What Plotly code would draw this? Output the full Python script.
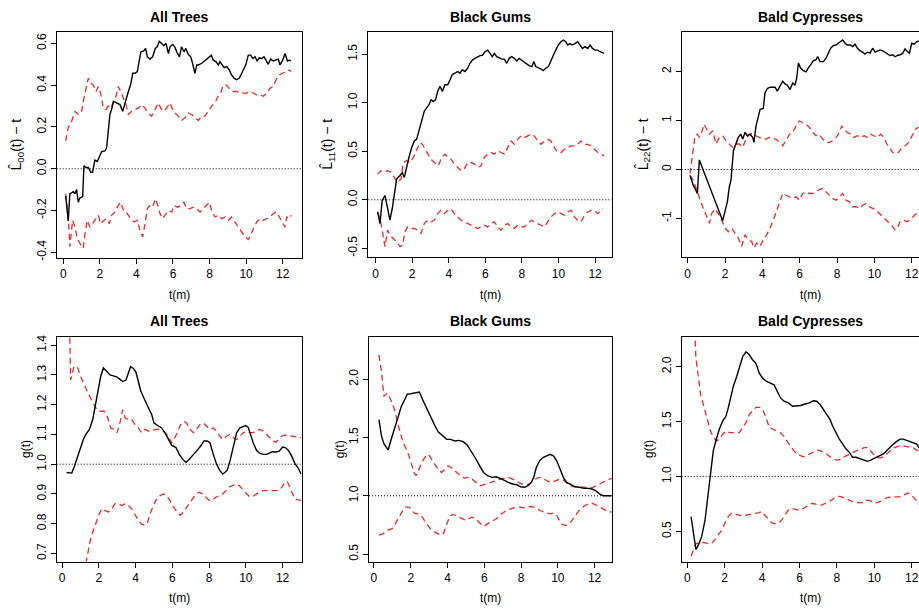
import plotly.graph_objects as go

W, H = 919, 613

# ---------------- data ----------------
X_TICKS = [0, 2, 4, 6, 8, 10, 12]
X_TICK_TEXT = ["0", "2", "4", "6", "8", "10", "12"]

TITLES = ["All Trees", "Black Gums", "Bald Cypresses"]
L_YLABELS = ["L\u0302<sub>00</sub>(t) \u2212 t", "L\u0302<sub>11</sub>(t) \u2212 t", "L\u0302<sub>22</sub>(t) \u2212 t"]
G_YLABEL = "g(t)"
X_LABEL = "t(m)"
REF_L = 0.0
REF_G = 1.0

Y_TICKS_ALL_L = [-0.4, -0.2, 0.0, 0.2, 0.4, 0.6]
Y_TEXT_ALL_L = ["-0.4", "-0.2", "0.0", "0.2", "0.4", "0.6"]
Y_TICKS_BG_L = [-0.5, 0.0, 0.5, 1.0, 1.5]
Y_TEXT_BG_L = ["-0.5", "0.0", "0.5", "1.0", "1.5"]
Y_TICKS_BC_L = [-1, 0, 1, 2]
Y_TEXT_BC_L = ["-1", "0", "1", "2"]
Y_TICKS_ALL_G = [0.7, 0.8, 0.9, 1.0, 1.1, 1.2, 1.3, 1.4]
Y_TEXT_ALL_G = ["0.7", "0.8", "0.9", "1.0", "1.1", "1.2", "1.3", "1.4"]
Y_TICKS_BG_G = [0.5, 1.0, 1.5, 2.0]
Y_TEXT_BG_G = ["0.5", "1.0", "1.5", "2.0"]
Y_TICKS_BC_G = [0.5, 1.0, 1.5, 2.0]
Y_TEXT_BC_G = ["0.5", "1.0", "1.5", "2.0"]

# All Trees, L00(t)-t : (t, value)
ALL_L_OBS = [(0.13,-0.13),(0.27,-0.25),(0.36,-0.12),(0.55,-0.11),(0.64,-0.12),(0.73,-0.10),(0.82,-0.16),(0.91,-0.14),(1.0,-0.136),(1.06,-0.133),
 (1.13,0.014),(1.24,0.006),(1.37,0.006),(1.5,-0.017),(1.6,-0.017),(1.73,0.041),(1.86,0.035),(2.0,0.062),(2.1,0.082),(2.28,0.085),
 (2.37,0.10),(2.46,0.18),(2.55,0.26),(2.64,0.283),(2.74,0.323),(2.92,0.315),(3.1,0.307),(3.25,0.275),(3.37,0.315),(3.56,0.37),
 (3.68,0.402),(3.8,0.457),(3.92,0.457),(4.05,0.465),(4.16,0.52),(4.25,0.56),(4.38,0.563),(4.5,0.576),(4.6,0.536),(4.74,0.525),
 (4.89,0.536),(5.03,0.576),(5.14,0.584),(5.25,0.611),(5.38,0.6),(5.5,0.589),(5.62,0.6),(5.75,0.552),(5.84,0.584),(5.98,0.595),
 (6.1,0.584),(6.2,0.56),(6.35,0.536),(6.47,0.584),(6.6,0.56),(6.7,0.576),(6.84,0.547),(6.97,0.536),(7.07,0.505),(7.2,0.457),
 (7.3,0.497),(7.39,0.497),(7.57,0.505),(7.75,0.52),(7.93,0.531),(8.1,0.544),(8.2,0.52),(8.35,0.513),(8.48,0.497),(8.57,0.513),
 (8.7,0.497),(8.8,0.484),(8.94,0.489),(9.08,0.473),(9.2,0.45),(9.34,0.434),(9.48,0.426),(9.63,0.434),(9.76,0.457),(9.88,0.48),
 (9.99,0.5),(10.12,0.544),(10.25,0.544),(10.36,0.528),(10.49,0.536),(10.6,0.516),(10.72,0.531),(10.85,0.528),(10.98,0.536),(11.13,0.513),
 (11.2,0.5),(11.34,0.525),(11.49,0.516),(11.6,0.52),(11.76,0.525),(11.85,0.497),(12.0,0.52),(12.13,0.552),(12.26,0.516),(12.37,0.52),(12.46,0.516)]
ALL_L_HI = [(0.13,0.133),(0.27,0.196),(0.46,0.228),(0.64,0.275),(0.82,0.26),(1.0,0.275),(1.13,0.339),(1.24,0.378),(1.37,0.434),(1.5,0.41),(1.64,0.40),(1.79,0.37),(1.92,0.394),(2.04,0.362),(2.19,0.29),(2.33,0.283),(2.46,0.30),(2.59,0.29),(2.74,0.315),(2.88,0.347),(3.0,0.394),(3.14,0.37),(3.28,0.339),(3.43,0.307),(3.56,0.26),(3.74,0.275),(3.92,0.283),(4.1,0.29),(4.29,0.307),(4.47,0.29),(4.65,0.267),(4.83,0.252),(5.01,0.283),(5.2,0.315),(5.33,0.29),(5.47,0.275),(5.65,0.29),(5.84,0.315),(5.98,0.283),(6.11,0.267),(6.29,0.252),(6.47,0.231),(6.66,0.244),(6.84,0.267),(7.02,0.26),(7.2,0.244),(7.39,0.231),(7.57,0.252),(7.75,0.252),(7.93,0.275),(8.11,0.30),(8.3,0.315),(8.42,0.339),(8.6,0.362),(8.75,0.40),(8.94,0.40),(9.12,0.378),(9.3,0.37),(9.48,0.37),(9.67,0.362),(9.85,0.362),(10.03,0.362),(10.21,0.37),(10.4,0.362),(10.58,0.354),(10.76,0.354),(10.94,0.347),(11.13,0.362),(11.31,0.386),(11.49,0.394),(11.64,0.426),(11.82,0.45),(12.0,0.457),(12.18,0.465),(12.37,0.473),(12.46,0.465)]
ALL_L_LO = [(0.13,-0.12),(0.27,-0.23),(0.36,-0.373),(0.51,-0.247),(0.64,-0.28),(0.77,-0.334),(0.91,-0.358),(1.09,-0.381),(1.19,-0.31),(1.31,-0.247),(1.46,-0.28),(1.64,-0.255),(1.79,-0.239),(1.92,-0.223),(2.04,-0.263),(2.23,-0.247),(2.37,-0.239),(2.52,-0.263),(2.64,-0.223),(2.83,-0.207),(3.0,-0.176),(3.14,-0.16),(3.32,-0.207),(3.5,-0.215),(3.68,-0.239),(3.87,-0.255),(4.05,-0.247),(4.19,-0.294),(4.34,-0.326),(4.47,-0.263),(4.6,-0.191),(4.74,-0.176),(4.89,-0.184),(5.03,-0.144),(5.14,-0.168),(5.29,-0.215),(5.44,-0.239),(5.56,-0.223),(5.75,-0.2),(5.93,-0.207),(6.06,-0.176),(6.24,-0.184),(6.42,-0.176),(6.6,-0.16),(6.75,-0.191),(6.93,-0.191),(7.11,-0.184),(7.3,-0.191),(7.48,-0.207),(7.66,-0.191),(7.84,-0.176),(7.99,-0.16),(8.11,-0.2),(8.3,-0.231),(8.48,-0.223),(8.66,-0.239),(8.85,-0.231),(9.03,-0.247),(9.2,-0.231),(9.39,-0.255),(9.57,-0.28),(9.76,-0.302),(9.94,-0.326),(10.12,-0.339),(10.25,-0.318),(10.4,-0.286),(10.58,-0.255),(10.76,-0.239),(10.94,-0.247),(11.13,-0.239),(11.31,-0.231),(11.49,-0.215),(11.64,-0.207),(11.82,-0.231),(12.0,-0.263),(12.13,-0.28),(12.22,-0.231),(12.37,-0.239),(12.46,-0.223)]

# Black Gums, L11(t)-t
BG_L_OBS = [(0.11,-0.126),(0.24,-0.245),(0.36,-0.007),(0.51,0.044),(0.66,-0.09),(0.78,-0.21),(0.91,-0.09),(1.02,0.06),(1.15,0.215),(1.33,0.25),(1.46,0.28),(1.57,0.23),(1.7,0.35),(1.82,0.436),(1.97,0.538),(2.12,0.606),(2.24,0.623),(2.37,0.708),(2.52,0.828),(2.66,0.913),(2.79,0.947),(2.92,0.98),(3.03,1.03),(3.16,1.015),(3.28,1.03),(3.39,1.117),(3.52,1.17),(3.65,1.117),(3.79,1.185),(3.94,1.185),(4.07,1.237),(4.19,1.29),(4.34,1.305),(4.49,1.322),(4.61,1.305),(4.74,1.34),(4.89,1.322),(5.03,1.356),(5.16,1.407),(5.29,1.44),(5.43,1.458),(5.58,1.475),(5.71,1.486),(5.84,1.49),(5.98,1.526),(6.13,1.543),(6.26,1.5),(6.38,1.475),(6.49,1.51),(6.62,1.475),(6.75,1.465),(6.89,1.45),(7.04,1.45),(7.17,1.407),(7.3,1.458),(7.44,1.475),(7.59,1.458),(7.72,1.43),(7.85,1.458),(7.99,1.44),(8.13,1.424),(8.26,1.407),(8.39,1.383),(8.54,1.373),(8.65,1.424),(8.76,1.373),(8.9,1.363),(9.05,1.346),(9.17,1.332),(9.3,1.356),(9.45,1.373),(9.59,1.44),(9.72,1.49),(9.85,1.543),(9.99,1.595),(10.14,1.63),(10.27,1.646),(10.4,1.63),(10.5,1.595),(10.63,1.61),(10.76,1.595),(10.9,1.61),(11.05,1.63),(11.18,1.595),(11.31,1.56),(11.45,1.578),(11.6,1.56),(11.73,1.595),(11.86,1.56),(12.0,1.543),(12.15,1.543),(12.27,1.526),(12.4,1.52),(12.5,1.51)]
BG_L_HI = [(0.11,0.266),(0.29,0.30),(0.47,0.283),(0.66,0.30),(0.84,0.283),(1.02,0.232),(1.2,0.18),(1.39,0.215),(1.51,0.385),(1.7,0.402),(1.88,0.385),(2.06,0.436),(2.24,0.52),(2.43,0.59),(2.55,0.572),(2.74,0.504),(2.92,0.453),(3.1,0.402),(3.28,0.368),(3.43,0.35),(3.61,0.436),(3.79,0.47),(3.94,0.436),(4.12,0.419),(4.3,0.368),(4.49,0.334),(4.67,0.30),(4.85,0.317),(5.03,0.385),(5.22,0.385),(5.4,0.368),(5.58,0.334),(5.76,0.35),(5.95,0.436),(6.13,0.47),(6.31,0.487),(6.49,0.47),(6.68,0.504),(6.86,0.487),(7.04,0.47),(7.22,0.538),(7.4,0.606),(7.59,0.572),(7.77,0.623),(7.95,0.658),(8.13,0.64),(8.32,0.658),(8.5,0.675),(8.68,0.658),(8.87,0.606),(9.05,0.572),(9.23,0.606),(9.41,0.623),(9.59,0.606),(9.78,0.538),(9.96,0.487),(10.14,0.487),(10.32,0.52),(10.5,0.538),(10.69,0.555),(10.87,0.555),(11.05,0.572),(11.23,0.606),(11.42,0.572),(11.6,0.572),(11.78,0.555),(11.96,0.52),(12.15,0.487),(12.33,0.47),(12.5,0.453)]
BG_L_LO = [(0.11,-0.126),(0.24,-0.194),(0.36,-0.313),(0.51,-0.484),(0.66,-0.313),(0.78,-0.365),(0.97,-0.40),(1.15,-0.433),(1.33,-0.484),(1.48,-0.467),(1.6,-0.33),(1.75,-0.28),(1.93,-0.296),(2.12,-0.296),(2.3,-0.313),(2.48,-0.348),(2.66,-0.245),(2.85,-0.211),(3.03,-0.228),(3.21,-0.211),(3.39,-0.143),(3.57,-0.109),(3.76,-0.143),(3.94,-0.109),(4.12,-0.092),(4.3,-0.143),(4.49,-0.177),(4.67,-0.211),(4.85,-0.228),(5.03,-0.245),(5.22,-0.262),(5.4,-0.28),(5.58,-0.296),(5.76,-0.28),(5.95,-0.262),(6.13,-0.28),(6.31,-0.245),(6.49,-0.228),(6.68,-0.28),(6.86,-0.313),(7.04,-0.262),(7.22,-0.245),(7.4,-0.28),(7.59,-0.296),(7.77,-0.262),(7.95,-0.28),(8.13,-0.28),(8.32,-0.245),(8.5,-0.211),(8.68,-0.228),(8.87,-0.245),(9.05,-0.262),(9.23,-0.28),(9.41,-0.228),(9.59,-0.177),(9.78,-0.143),(9.96,-0.126),(10.14,-0.143),(10.32,-0.16),(10.5,-0.126),(10.69,-0.109),(10.87,-0.177),(11.05,-0.211),(11.23,-0.228),(11.42,-0.16),(11.6,-0.126),(11.78,-0.109),(11.96,-0.109),(12.15,-0.143),(12.33,-0.109),(12.42,-0.092)]

# Bald Cypresses, L22(t)-t
BC_L_OBS = [(0.125,-0.12),(0.30,-0.32),(0.52,-0.49),(0.625,0.195),(1.875,-1.045),(2.0,-0.83),(2.125,-0.66),(2.23,-0.357),(2.32,-0.22),(2.45,0.384),(2.59,0.52),(2.71,0.654),(2.84,0.72),(2.95,0.62),(3.07,0.755),(3.2,0.688),(3.34,0.72),(3.48,0.654),(3.55,0.553),(3.66,0.89),(3.79,1.09),(3.88,1.227),(4.05,1.247),(4.14,1.564),(4.27,1.652),(4.41,1.679),(4.55,1.679),(4.68,1.679),(4.8,1.598),(4.95,1.70),(5.09,1.80),(5.21,1.746),(5.34,1.72),(5.48,1.63),(5.63,1.766),(5.75,1.72),(5.84,1.867),(5.93,2.17),(6.05,2.07),(6.2,2.016),(6.34,1.99),(6.46,2.07),(6.59,2.137),(6.73,2.218),(6.88,2.24),(6.96,2.305),(7.09,2.2),(7.27,2.2),(7.41,2.27),(7.54,2.373),(7.66,2.474),(7.8,2.528),(7.95,2.54),(8.07,2.575),(8.2,2.61),(8.3,2.643),(8.43,2.575),(8.55,2.54),(8.7,2.54),(8.84,2.508),(8.96,2.555),(9.09,2.474),(9.23,2.42),(9.38,2.393),(9.5,2.353),(9.63,2.393),(9.77,2.373),(9.91,2.474),(10.04,2.393),(10.16,2.42),(10.3,2.44),(10.45,2.42),(10.57,2.386),(10.7,2.353),(10.84,2.326),(10.98,2.34),(11.11,2.30),(11.23,2.326),(11.38,2.34),(11.52,2.373),(11.64,2.46),(11.77,2.407),(11.88,2.373),(12.0,2.575),(12.13,2.555),(12.27,2.61),(12.5,2.62)]
BC_L_HI = [(0.125,-0.088),(0.27,0.384),(0.39,0.688),(0.52,0.72),(0.625,0.654),(0.75,0.755),(0.875,0.924),(1.02,0.822),(1.16,0.72),(1.34,0.79),(1.52,0.52),(1.7,0.654),(1.875,0.688),(2.05,0.587),(2.23,0.52),(2.41,0.45),(2.59,0.52),(2.77,0.52),(2.95,0.45),(3.125,0.62),(3.3,0.72),(3.48,0.735),(3.66,0.688),(3.84,0.654),(4.02,0.62),(4.2,0.62),(4.375,0.654),(4.55,0.64),(4.73,0.62),(4.91,0.553),(5.09,0.485),(5.27,0.587),(5.45,0.72),(5.63,0.755),(5.8,0.89),(5.98,0.99),(6.16,0.957),(6.34,0.924),(6.52,0.856),(6.7,0.755),(6.875,0.688),(7.05,0.72),(7.23,0.62),(7.41,0.553),(7.59,0.553),(7.77,0.587),(7.95,0.654),(8.125,0.755),(8.25,0.89),(8.375,0.822),(8.55,0.755),(8.73,0.72),(8.91,0.654),(9.09,0.688),(9.27,0.654),(9.45,0.688),(9.625,0.654),(9.8,0.72),(9.98,0.688),(10.16,0.654),(10.34,0.72),(10.52,0.654),(10.66,0.52),(10.8,0.45),(10.98,0.35),(11.16,0.317),(11.3,0.35),(11.48,0.45),(11.66,0.485),(11.84,0.553),(12.02,0.688),(12.2,0.822),(12.34,0.856),(12.5,0.87)]
BC_L_LO = [(0.125,-0.12),(0.30,-0.22),(0.52,-0.46),(0.7,-0.66),(0.84,-0.80),(1.02,-0.96),(1.16,-1.10),(1.29,-0.897),(1.46,-0.80),(1.64,-0.90),(1.82,-1.03),(2.0,-1.20),(2.18,-1.27),(2.36,-1.20),(2.54,-1.30),(2.71,-1.40),(2.89,-1.57),(3.07,-1.335),(3.25,-1.436),(3.43,-1.47),(3.55,-1.60),(3.7,-1.50),(3.875,-1.57),(4.05,-1.436),(4.23,-1.335),(4.41,-1.20),(4.59,-1.03),(4.77,-0.83),(4.95,-0.627),(5.09,-0.49),(5.27,-0.526),(5.45,-0.56),(5.63,-0.593),(5.8,-0.56),(5.98,-0.627),(6.16,-0.49),(6.34,-0.458),(6.52,-0.49),(6.7,-0.49),(6.875,-0.458),(7.05,-0.41),(7.23,-0.39),(7.41,-0.458),(7.59,-0.526),(7.77,-0.593),(7.95,-0.627),(8.125,-0.56),(8.3,-0.49),(8.48,-0.627),(8.66,-0.66),(8.84,-0.76),(9.02,-0.76),(9.2,-0.795),(9.375,-0.73),(9.55,-0.694),(9.73,-0.76),(9.91,-0.795),(10.09,-0.83),(10.27,-0.897),(10.45,-0.96),(10.625,-1.03),(10.8,-1.10),(10.98,-1.166),(11.11,-1.234),(11.23,-1.20),(11.375,-1.065),(11.55,-1.03),(11.73,-1.065),(11.91,-1.03),(12.09,-0.96),(12.27,-0.897),(12.375,-0.83),(12.5,-0.80)]

# All Trees, g(t)
ALL_G_OBS = [(0.25,0.972),(0.53,0.97),(0.65,0.989),(0.8,1.017),(0.98,1.056),(1.16,1.083),(1.3,1.10),(1.49,1.117),(1.67,1.15),(1.85,1.211),(1.98,1.267),(2.1,1.294),(2.25,1.324),(2.43,1.31),(2.61,1.30),(2.79,1.297),(2.97,1.294),(3.12,1.287),(3.3,1.278),(3.48,1.283),(3.61,1.306),(3.73,1.328),(3.88,1.322),(4.02,1.31),(4.15,1.278),(4.28,1.247),(4.46,1.222),(4.6,1.20),(4.75,1.183),(4.88,1.167),(5.0,1.139),(5.18,1.131),(5.42,1.122),(5.6,1.106),(5.78,1.083),(5.96,1.064),(6.2,1.056),(6.38,1.033),(6.56,1.017),(6.74,1.006),(6.87,1.013),(7.1,1.028),(7.32,1.044),(7.54,1.061),(7.72,1.078),(7.9,1.078),(8.05,1.072),(8.23,1.033),(8.41,1.0),(8.59,0.978),(8.74,0.967),(8.86,0.972),(8.99,0.98),(9.14,1.011),(9.32,1.061),(9.5,1.106),(9.68,1.122),(9.86,1.128),(10.0,1.13),(10.13,1.124),(10.26,1.10),(10.4,1.072),(10.58,1.047),(10.77,1.036),(10.95,1.033),(11.13,1.033),(11.31,1.038),(11.46,1.042),(11.64,1.041),(11.82,1.044),(12.0,1.058),(12.14,1.056),(12.31,1.047),(12.49,1.028),(12.67,1.002),(12.85,0.987),(13.0,0.967)]
ALL_G_HI = [(0.38,1.56),(0.47,1.283),(0.65,1.328),(0.83,1.328),(1.02,1.294),(1.2,1.267),(1.38,1.244),(1.56,1.222),(1.74,1.20),(1.92,1.18),(2.1,1.178),(2.28,1.178),(2.46,1.161),(2.65,1.122),(2.83,1.117),(3.0,1.106),(3.15,1.139),(3.3,1.183),(3.43,1.156),(3.61,1.15),(3.79,1.15),(3.97,1.133),(4.15,1.122),(4.33,1.106),(4.51,1.117),(4.69,1.111),(4.88,1.113),(5.06,1.117),(5.24,1.117),(5.42,1.113),(5.6,1.106),(5.78,1.094),(5.96,1.072),(6.09,1.083),(6.27,1.106),(6.45,1.133),(6.63,1.144),(6.78,1.139),(6.96,1.117),(7.14,1.106),(7.32,1.117),(7.5,1.133),(7.68,1.139),(7.86,1.128),(8.05,1.117),(8.23,1.122),(8.41,1.111),(8.59,1.094),(8.77,1.083),(8.95,1.094),(9.14,1.10),(9.32,1.089),(9.5,1.083),(9.68,1.094),(9.86,1.106),(10.04,1.111),(10.22,1.106),(10.4,1.106),(10.58,1.113),(10.77,1.117),(10.95,1.111),(11.13,1.10),(11.31,1.089),(11.49,1.078),(11.64,1.074),(11.77,1.083),(11.95,1.094),(12.13,1.098),(12.31,1.097),(12.49,1.094),(12.67,1.093),(12.85,1.091),(13.0,1.089)]
ALL_G_LO = [(1.1,0.60),(1.38,0.70),(1.52,0.739),(1.67,0.772),(1.85,0.806),(2.03,0.833),(2.16,0.85),(2.34,0.844),(2.52,0.839),(2.7,0.85),(2.88,0.867),(3.06,0.867),(3.24,0.861),(3.43,0.867),(3.61,0.861),(3.79,0.85),(3.97,0.828),(4.15,0.811),(4.33,0.798),(4.51,0.794),(4.64,0.802),(4.79,0.833),(4.97,0.861),(5.15,0.883),(5.33,0.894),(5.51,0.90),(5.69,0.894),(5.87,0.878),(6.05,0.856),(6.23,0.844),(6.42,0.828),(6.56,0.836),(6.74,0.85),(6.92,0.867),(7.1,0.883),(7.29,0.90),(7.47,0.906),(7.65,0.90),(7.83,0.889),(8.01,0.878),(8.19,0.88),(8.37,0.889),(8.55,0.894),(8.74,0.90),(8.92,0.911),(9.1,0.924),(9.28,0.928),(9.46,0.933),(9.64,0.928),(9.82,0.917),(10.0,0.906),(10.19,0.891),(10.37,0.891),(10.55,0.898),(10.73,0.906),(10.95,0.911),(11.13,0.911),(11.35,0.911),(11.58,0.909),(11.77,0.911),(11.95,0.922),(12.13,0.939),(12.25,0.942),(12.4,0.922),(12.54,0.90),(12.67,0.883),(12.85,0.88),(13.0,0.878)]

# Black Gums, g(t)
BG_G_OBS = [(0.27,1.654),(0.41,1.512),(0.54,1.447),(0.77,1.393),(0.91,1.47),(1.09,1.569),(1.27,1.668),(1.49,1.767),(1.67,1.824),(1.81,1.872),(1.99,1.875),(2.2,1.881),(2.47,1.89),(2.65,1.824),(2.83,1.759),(3.06,1.683),(3.28,1.612),(3.49,1.549),(3.73,1.512),(3.96,1.484),(4.17,1.484),(4.39,1.47),(4.62,1.475),(4.85,1.464),(5.07,1.436),(5.28,1.385),(5.52,1.322),(5.75,1.257),(5.96,1.20),(6.18,1.172),(6.41,1.158),(6.65,1.163),(6.86,1.152),(7.07,1.135),(7.31,1.115),(7.54,1.101),(7.76,1.095),(7.97,1.078),(8.2,1.073),(8.38,1.087),(8.56,1.115),(8.69,1.158),(8.83,1.243),(9.01,1.30),(9.19,1.328),(9.37,1.342),(9.58,1.356),(9.76,1.342),(9.94,1.30),(10.12,1.229),(10.3,1.158),(10.48,1.115),(10.71,1.095),(10.94,1.078),(11.16,1.073),(11.43,1.064),(11.66,1.064),(11.87,1.058),(12.05,1.044),(12.27,1.016),(12.47,1.0),(12.68,1.002),(12.86,1.002),(13.0,1.0)]
BG_G_HI = [(0.27,2.207),(0.41,2.065),(0.54,1.853),(0.73,1.88),(0.91,1.824),(1.09,1.753),(1.27,1.64),(1.45,1.527),(1.63,1.442),(1.81,1.385),(1.99,1.30),(2.17,1.20),(2.29,1.172),(2.47,1.243),(2.65,1.30),(2.83,1.342),(2.96,1.356),(3.13,1.314),(3.31,1.271),(3.49,1.229),(3.67,1.20),(3.85,1.229),(4.03,1.257),(4.21,1.243),(4.39,1.214),(4.57,1.186),(4.75,1.163),(4.93,1.152),(5.1,1.158),(5.28,1.152),(5.46,1.129),(5.64,1.101),(5.82,1.087),(6.0,1.095),(6.18,1.107),(6.36,1.115),(6.54,1.124),(6.72,1.135),(6.9,1.144),(7.07,1.152),(7.25,1.158),(7.43,1.152),(7.61,1.135),(7.79,1.124),(7.97,1.107),(8.15,1.095),(8.33,1.095),(8.51,1.107),(8.69,1.135),(8.87,1.152),(9.05,1.158),(9.23,1.144),(9.4,1.129),(9.58,1.115),(9.76,1.121),(9.94,1.135),(10.12,1.144),(10.3,1.135),(10.48,1.107),(10.66,1.087),(10.84,1.078),(11.02,1.078),(11.2,1.078),(11.38,1.073),(11.56,1.073),(11.74,1.067),(11.91,1.073),(12.09,1.087),(12.27,1.101),(12.45,1.115),(12.63,1.129),(12.81,1.144),(13.0,1.15)]
BG_G_LO = [(0.27,0.662),(0.5,0.676),(0.73,0.704),(0.99,0.718),(1.16,0.761),(1.34,0.817),(1.52,0.86),(1.7,0.903),(1.88,0.903),(2.02,0.888),(2.2,0.852),(2.38,0.846),(2.56,0.832),(2.74,0.79),(2.92,0.747),(3.1,0.71),(3.28,0.69),(3.46,0.676),(3.64,0.662),(3.78,0.676),(3.96,0.761),(4.1,0.817),(4.26,0.84),(4.44,0.832),(4.62,0.817),(4.8,0.803),(4.98,0.79),(5.16,0.803),(5.34,0.817),(5.52,0.803),(5.7,0.775),(5.88,0.747),(6.0,0.738),(6.18,0.761),(6.36,0.775),(6.54,0.79),(6.72,0.81),(6.9,0.84),(7.07,0.86),(7.25,0.88),(7.43,0.888),(7.61,0.896),(7.79,0.903),(7.97,0.903),(8.15,0.896),(8.33,0.903),(8.51,0.908),(8.69,0.903),(8.87,0.888),(9.05,0.874),(9.23,0.86),(9.4,0.852),(9.58,0.846),(9.76,0.852),(9.94,0.832),(10.08,0.79),(10.23,0.755),(10.41,0.747),(10.59,0.755),(10.77,0.79),(10.94,0.832),(11.12,0.868),(11.3,0.896),(11.48,0.917),(11.66,0.93),(11.84,0.937),(12.02,0.925),(12.2,0.908),(12.38,0.896),(12.56,0.88),(12.74,0.868),(13.0,0.855)]

# Bald Cypresses, g(t)
BC_G_OBS = [(0.2,0.635),(0.36,0.425),(0.46,0.335),(0.6,0.38),(0.77,0.455),(0.95,0.605),(1.12,0.845),(1.25,1.055),(1.39,1.235),(1.53,1.325),(1.71,1.43),(1.89,1.505),(2.07,1.55),(2.19,1.625),(2.32,1.73),(2.46,1.82),(2.64,1.91),(2.82,2.015),(2.96,2.09),(3.14,2.135),(3.32,2.105),(3.5,2.06),(3.67,2.03),(3.85,1.94),(4.03,1.895),(4.24,1.865),(4.42,1.85),(4.64,1.835),(4.81,1.775),(4.99,1.715),(5.17,1.685),(5.4,1.67),(5.63,1.64),(5.85,1.64),(6.06,1.646),(6.29,1.66),(6.53,1.67),(6.74,1.69),(6.92,1.685),(7.1,1.655),(7.28,1.61),(7.45,1.565),(7.63,1.52),(7.77,1.46),(7.95,1.40),(8.13,1.34),(8.31,1.295),(8.49,1.25),(8.67,1.22),(8.84,1.175),(9.02,1.175),(9.24,1.16),(9.45,1.145),(9.63,1.138),(9.81,1.15),(10.04,1.168),(10.27,1.19),(10.48,1.205),(10.66,1.235),(10.84,1.27),(11.02,1.295),(11.2,1.32),(11.38,1.34),(11.55,1.34),(11.73,1.33),(11.91,1.32),(12.09,1.31),(12.27,1.295),(12.39,1.265),(12.5,1.25)]
BC_G_HI = [(0.33,2.6),(0.46,2.075),(0.59,1.91),(0.71,1.745),(0.86,1.655),(1.03,1.535),(1.21,1.43),(1.39,1.355),(1.57,1.325),(1.71,1.34),(1.89,1.385),(2.07,1.415),(2.25,1.40),(2.42,1.40),(2.6,1.40),(2.78,1.40),(2.96,1.445),(3.14,1.49),(3.32,1.565),(3.5,1.595),(3.67,1.63),(3.85,1.63),(4.03,1.61),(4.21,1.535),(4.39,1.445),(4.6,1.43),(4.78,1.415),(4.96,1.40),(5.14,1.37),(5.31,1.325),(5.49,1.28),(5.67,1.24),(5.85,1.205),(6.03,1.19),(6.21,1.18),(6.38,1.19),(6.56,1.205),(6.74,1.225),(6.92,1.24),(7.1,1.235),(7.28,1.22),(7.45,1.205),(7.63,1.18),(7.81,1.16),(7.99,1.15),(8.17,1.155),(8.34,1.175),(8.52,1.19),(8.7,1.21),(8.88,1.225),(9.06,1.235),(9.24,1.24),(9.41,1.26),(9.59,1.265),(9.77,1.24),(9.95,1.205),(10.13,1.175),(10.31,1.168),(10.48,1.18),(10.66,1.205),(10.84,1.235),(11.02,1.26),(11.2,1.27),(11.38,1.28),(11.55,1.28),(11.73,1.27),(11.91,1.265),(12.09,1.26),(12.27,1.24),(12.39,1.235),(12.5,1.23)]
BC_G_LO = [(0.2,0.275),(0.32,0.335),(0.46,0.39),(0.68,0.395),(0.89,0.40),(1.12,0.39),(1.3,0.39),(1.48,0.425),(1.66,0.47),(1.84,0.515),(2.01,0.575),(2.19,0.635),(2.37,0.665),(2.55,0.66),(2.73,0.65),(2.91,0.64),(3.08,0.645),(3.26,0.655),(3.44,0.66),(3.62,0.665),(3.8,0.67),(3.98,0.68),(4.15,0.65),(4.33,0.61),(4.51,0.58),(4.69,0.57),(4.87,0.575),(5.05,0.605),(5.22,0.65),(5.4,0.695),(5.58,0.71),(5.76,0.70),(5.94,0.695),(6.12,0.70),(6.29,0.72),(6.47,0.74),(6.65,0.755),(6.83,0.75),(7.01,0.74),(7.19,0.74),(7.36,0.755),(7.54,0.77),(7.72,0.785),(7.9,0.81),(8.08,0.82),(8.26,0.815),(8.43,0.80),(8.61,0.785),(8.79,0.775),(8.97,0.765),(9.15,0.765),(9.33,0.76),(9.5,0.78),(9.68,0.785),(9.86,0.773),(10.04,0.76),(10.22,0.765),(10.4,0.785),(10.57,0.80),(10.75,0.81),(10.93,0.815),(11.11,0.815),(11.29,0.815),(11.47,0.82),(11.64,0.838),(11.82,0.85),(12.0,0.83),(12.18,0.79),(12.36,0.755),(12.5,0.73)]

# ---------------- layout / styling ----------------
FONT = "Liberation Sans, Arial, Helvetica, sans-serif"
RED = "rgb(238,40,40)"

panels = [
    dict(obs=ALL_L_OBS, hi=ALL_L_HI, lo=ALL_L_LO, ref=REF_L, title=TITLES[0], ylab=L_YLABELS[0], ylab_size=14,
         yt=Y_TICKS_ALL_L, ytt=Y_TEXT_ALL_L, px=(56.7, 301.7), py=(30, 258),
         xr=[-0.36, 13.04], yr=[-0.427, 0.656], ylab_dx=40, tcx=None, row=0),
    dict(obs=BG_L_OBS, hi=BG_L_HI, lo=BG_L_LO, ref=REF_L, title=TITLES[1], ylab=L_YLABELS[1], ylab_size=14,
         yt=Y_TICKS_BG_L, ytt=Y_TEXT_BG_L, px=(368.3, 611.7), py=(30, 257.3),
         xr=[-0.40, 12.91], yr=[-0.592, 1.732], ylab_dx=40, tcx=None, row=0),
    dict(obs=BC_L_OBS, hi=BC_L_HI, lo=BC_L_LO, ref=REF_L, title=TITLES[2], ylab=L_YLABELS[2], ylab_size=14,
         yt=Y_TICKS_BC_L, ytt=Y_TEXT_BC_L, px=(681.7, 919), py=(30, 257.3),
         xr=[-0.32, 12.39], yr=[-1.79, 2.81], ylab_dx=38, tcx=810, row=0),
    dict(obs=ALL_G_OBS, hi=ALL_G_HI, lo=ALL_G_LO, ref=REF_G, title=TITLES[0], ylab=G_YLABEL, ylab_size=12,
         yt=Y_TICKS_ALL_G, ytt=Y_TEXT_ALL_G, px=(56.7, 301.7), py=(337.7, 564.3),
         xr=[-0.29, 13.04], yr=[0.672, 1.428], ylab_dx=30, tcx=None, row=1),
    dict(obs=BG_G_OBS, hi=BG_G_HI, lo=BG_G_LO, ref=REF_G, title=TITLES[1], ylab=G_YLABEL, ylab_size=12,
         yt=Y_TICKS_BG_G, ytt=Y_TEXT_BG_G, px=(369, 611.7), py=(337.7, 564.3),
         xr=[-0.27, 12.93], yr=[0.435, 2.362], ylab_dx=29, tcx=None, row=1),
    dict(obs=BC_G_OBS, hi=BC_G_HI, lo=BC_G_LO, ref=REF_G, title=TITLES[2], ylab=G_YLABEL, ylab_size=12,
         yt=Y_TICKS_BC_G, ytt=Y_TEXT_BC_G, px=(681.7, 919), py=(337.7, 564.3),
         xr=[-0.30, 12.39], yr=[0.225, 2.27], ylab_dx=32, tcx=810, row=1),
]

fig = go.Figure()
layout = dict(width=W, height=H, margin=dict(l=0, r=0, t=0, b=0),
              paper_bgcolor="white", plot_bgcolor="white", showlegend=False,
              font=dict(family=FONT, size=12, color="black"))
annotations = []
shapes = []

for i, p in enumerate(panels):
    k = "" if i == 0 else str(i + 1)
    xa, ya = "x" + k, "y" + k
    last_col = p["px"][1] >= W
    xdom = [p["px"][0] / W, min(1.0, p["px"][1] / W)]
    ydom = [1 - p["py"][1] / H, 1 - p["py"][0] / H]
    layout["xaxis" + k] = dict(domain=xdom, range=p["xr"], anchor=ya, showgrid=False, zeroline=False,
                              showline=True, mirror=True, linecolor="black", linewidth=1.1,
                              ticks="outside", ticklen=5, tickwidth=1, tickcolor="black",
                              tickvals=X_TICKS, ticktext=X_TICK_TEXT,
                              tickfont=dict(family=FONT, size=12, color="black"))
    layout["yaxis" + k] = dict(domain=ydom, range=p["yr"], anchor=xa, showgrid=False, zeroline=False,
                              showline=True, mirror=(not last_col), linecolor="black", linewidth=1.1,
                              ticks="outside", ticklen=5, tickwidth=1, tickcolor="black",
                              tickvals=p["yt"], ticktext=p["ytt"], tickangle=-90,
                              tickfont=dict(family=FONT, size=12, color="black"))
    for key, color, dash, width in (("hi", RED, "6px,4px", 1.3), ("lo", RED, "6px,4px", 1.3),
                                    ("obs", "black", "solid", 1.4)):
        pts = p[key]
        fig.add_trace(go.Scatter(x=[a for a, b in pts], y=[b for a, b in pts], mode="lines",
                                 line=dict(color=color, width=width, dash=dash),
                                 xaxis=xa, yaxis=ya, hoverinfo="skip"))
    shapes.append(dict(type="line", xref=xa + " domain", yref=ya, x0=0, x1=1, y0=p["ref"], y1=p["ref"],
                       line=dict(color="black", width=1, dash="1px,2px"), layer="above"))
    # panel title
    tcx = p["tcx"] if p["tcx"] is not None else (p["px"][0] + p["px"][1]) / 2
    tcy = 15 if p["row"] == 0 else 322
    annotations.append(dict(text="<b>" + p["title"] + "</b>", xref="paper", yref="paper",
                            x=tcx / W, y=1 - tcy / H, xanchor="center", yanchor="middle",
                            showarrow=False, font=dict(family=FONT, size=14, color="black")))
    # x label
    xly = 295 if p["row"] == 0 else 601
    annotations.append(dict(text=X_LABEL, xref="paper", yref="paper", x=tcx / W, y=1 - xly / H,
                            xanchor="center", yanchor="middle", showarrow=False,
                            font=dict(family=FONT, size=12, color="black")))
    # y label
    ycenter = (p["py"][0] + p["py"][1]) / 2
    annotations.append(dict(text=p["ylab"], xref="paper", yref="paper",
                            x=(p["px"][0] - p["ylab_dx"]) / W, y=1 - ycenter / H,
                            xanchor="center", yanchor="middle", textangle=-90, showarrow=False,
                            font=dict(family=FONT, size=p["ylab_size"], color="black")))

layout["annotations"] = annotations
layout["shapes"] = shapes
fig.update_layout(**layout)
fig.write_html("out.html")
